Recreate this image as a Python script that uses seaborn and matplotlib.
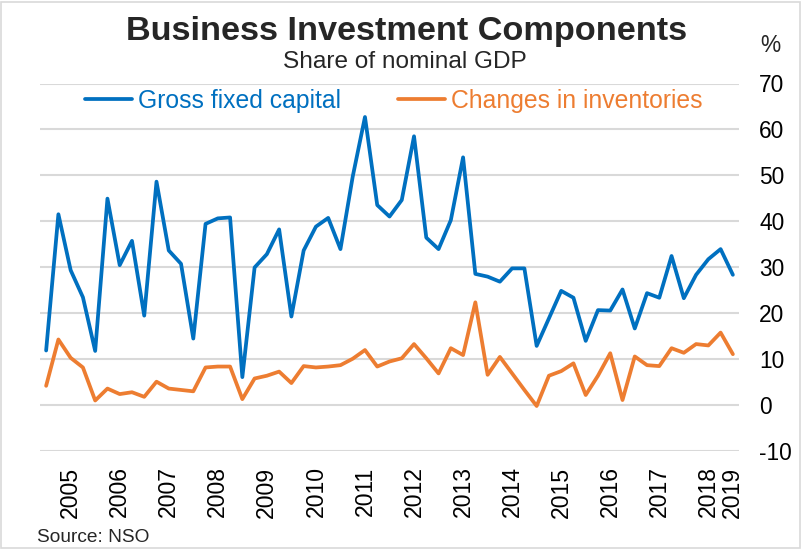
import matplotlib
matplotlib.use("Agg")
import matplotlib.pyplot as plt
from matplotlib.patches import Rectangle
import seaborn as sns
import pandas as pd
import numpy as np

# ---------------- data ----------------
quarters = [f"{y}Q{q}" for y in range(2005, 2020) for q in range(1, 5)][:57]
gross_fixed_capital = [11.8, 41.5, 29.3, 23.4, 11.7, 44.9, 30.4, 35.7, 19.4, 48.6,
                       33.6, 30.7, 14.4, 39.4, 40.6, 40.8, 6.0, 29.9, 32.8, 38.2,
                       19.2, 33.6, 38.8, 40.7, 33.9, 49.7, 62.7, 43.5, 41.0, 44.6,
                       58.5, 36.4, 33.9, 40.2, 53.9, 28.5, 27.9, 26.8, 29.7, 29.7,
                       12.8, 18.8, 24.8, 23.3, 13.9, 20.6, 20.5, 25.1, 16.6, 24.3,
                       23.3, 32.4, 23.2, 28.3, 31.7, 33.9, 28.3]
changes_in_inventories = [4.1, 14.2, 10.2, 8.1, 0.9, 3.5, 2.3, 2.7, 1.7, 5.0,
                          3.5, 3.2, 2.9, 8.1, 8.3, 8.3, 1.2, 5.7, 6.3, 7.2,
                          4.7, 8.4, 8.1, 8.3, 8.6, 10.0, 11.9, 8.3, 9.4, 10.1,
                          13.2, 10.1, 6.8, 12.3, 10.8, 22.3, 6.5, 10.4, 6.8, 3.2,
                          -0.3, 6.3, 7.3, 9.0, 2.1, 6.3, 11.2, 1.0, 10.5, 8.6,
                          8.4, 12.3, 11.3, 13.2, 12.9, 15.7, 11.0]
series_names = ["Gross fixed capital", "Changes in inventories"]
series_colors = ["#0070C0", "#ED7D31"]
year_labels = [str(y) for y in range(2005, 2020)]
y_ticks = [-10, 0, 10, 20, 30, 40, 50, 60, 70]

# ---------------- build frame ----------------
n = len(quarters)
pos = np.arange(n)
df = pd.concat([
    pd.DataFrame({"pos": pos, "quarter": quarters, "value": gross_fixed_capital,
                  "series": series_names[0]}),
    pd.DataFrame({"pos": pos, "quarter": quarters, "value": changes_in_inventories,
                  "series": series_names[1]}),
], ignore_index=True)

sns.set_theme(style="white")
plt.rcParams["font.family"] = ["Liberation Sans", "DejaVu Sans"]

W, H = 804, 549
fig = plt.figure(figsize=(W / 100, H / 100), dpi=100)
ax = fig.add_axes([40 / W, 1 - 450.5 / H, 699 / W, 367 / H])

sns.lineplot(data=df, x="pos", y="value", hue="series", hue_order=series_names,
             palette=dict(zip(series_names, series_colors)), linewidth=2.7,
             ax=ax, legend=False)

ax.set_xlim(-0.5, n - 0.5)
ax.set_ylim(-10, 70)

# year label positions (centre of each year's quarters; single quarter for 2019)
year_pos = []
for y in year_labels:
    idx = [i for i, q in enumerate(quarters) if q.startswith(y)]
    year_pos.append(idx[0] + 2.0 if len(idx) == 4 else idx[0])
ax.set_xticks(year_pos)
ax.set_xticklabels(year_labels, rotation=90)

ax.yaxis.tick_right()
ax.set_yticks(y_ticks)
ax.set_yticklabels([str(v) for v in y_ticks])
ax.tick_params(axis="y", length=0, pad=14.5, labelsize=16.4, colors="black")
ax.tick_params(axis="x", length=0, pad=11.5, labelsize=16.6, colors="black")
for lab in ax.get_yticklabels():
    lab.set_horizontalalignment("left")

ax.grid(axis="y", color="#d9d9d9", linewidth=1.5)
ax.grid(axis="x", visible=False)
ax.set_axisbelow(True)
for s in ax.spines.values():
    s.set_visible(False)
ax.set_xlabel("")
ax.set_ylabel("")

# legend
handles = ax.get_lines()[:2]
leg = fig.legend(handles, series_names, loc="center",
                 bbox_to_anchor=(394 / W, 1 - 101 / H), ncol=2, frameon=False,
                 fontsize=17.8, handlelength=1.9, handletextpad=0.25,
                 columnspacing=2.3, labelcolor="linecolor")

# titles and annotations
fig.text(407 / W, 1 - 40 / H, "Business Investment Components", ha="center",
         va="baseline", fontsize=24.7, fontweight="bold")
fig.text(405 / W, 1 - 68 / H, "Share of nominal GDP", ha="center",
         va="baseline", fontsize=17.6)
fig.text(760 / W, 1 - 46 / H, "%", ha="left", va="center", fontsize=16.4)
fig.text(37 / W, 1 - 542 / H, "Source: NSO", ha="left", va="baseline",
         fontsize=13.8)

fig.patches.append(Rectangle((1 / W, 1 / H), 1 - 5 / W, 1 - 3 / H,
                             transform=fig.transFigure, fill=False,
                             edgecolor="#d9d9d9", linewidth=1.2))

fig.savefig("out.png", dpi=100)
